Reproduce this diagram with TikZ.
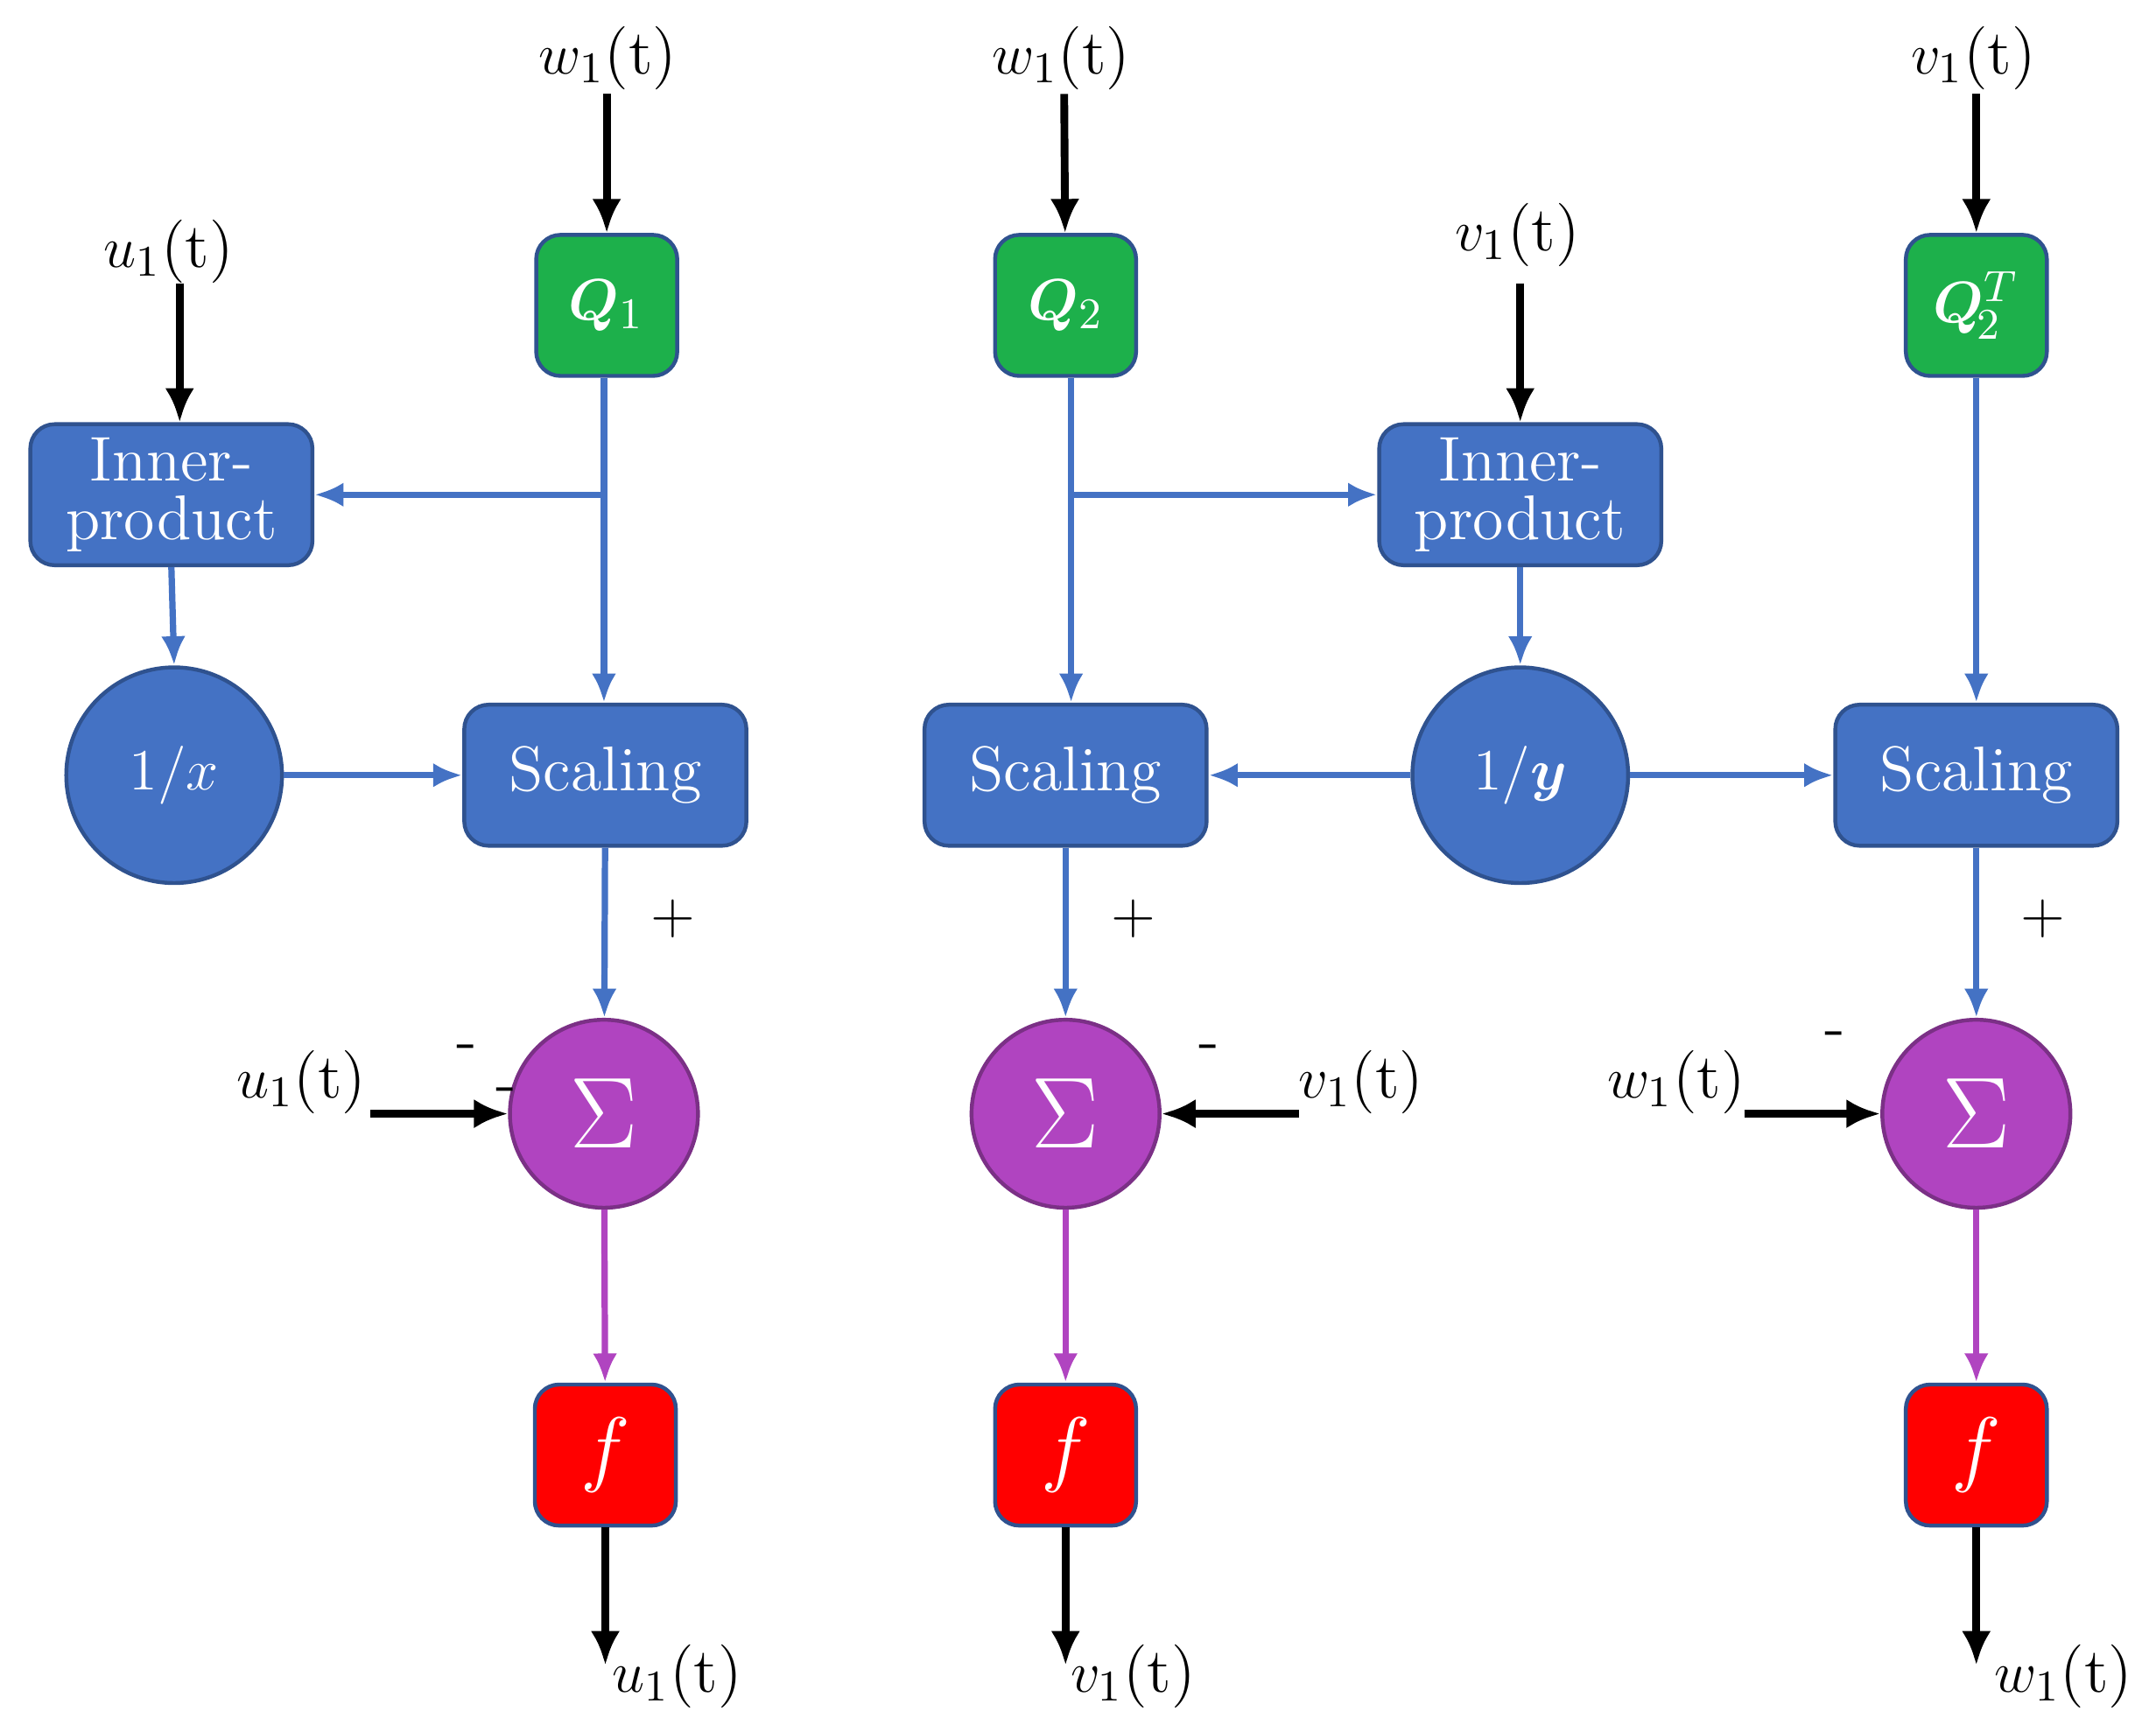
\documentclass[tikz,border=0pt]{standalone}
\usepackage{amsmath,bm}
\usetikzlibrary{arrows.meta}
\definecolor{bl}{HTML}{4472C4}
\definecolor{bld}{HTML}{2F528F}
\definecolor{gr}{HTML}{1DB04B}
\definecolor{pu}{HTML}{B044C0}
\definecolor{rd}{HTML}{FF0000}
\begin{document}
\begin{tikzpicture}[x=0.01cm,y=-0.01cm,font=\fontsize{13}{15}\selectfont,
 box/.style={draw=bld,line width=0.8pt,rounded corners=5pt,minimum width=2.04cm,minimum height=1.02cm,text=white,inner sep=0pt,align=center},
 sq/.style={box,minimum width=1.02cm},
 circ/.style={circle,draw=bld,line width=0.8pt,fill=bl,minimum size=1.56cm,text=white,inner sep=0pt},
 sig/.style={circle,draw=pu!70!black,line width=0.8pt,fill=pu,minimum size=1.36cm,text=white,inner sep=0pt,font=\fontsize{20}{22}\selectfont},
 ba/.style={-{Latex[length=7pt,width=6pt]},line width=1.6pt,black},
 bla/.style={-{Latex[length=6pt,width=5pt]},line width=1.3pt,bl},
 pa/.style={-{Latex[length=6pt,width=5pt]},line width=1.3pt,pu}]
\useasboundingbox (0,0) rectangle (1560,1253);
% green
\node[sq,fill=gr] (q1) at (439,221) {$\bm{Q}_1$};
\node[sq,fill=gr] (q2) at (771,221) {$\bm{Q}_2$};
\node[sq,fill=gr] (q3) at (1430,221) {$\bm{Q}_{\!2}^{T}$};
% inner products
\node[box,fill=bl,align=center] (ip1) at (124,358) {Inner-\\[-3pt]product};
\node[box,fill=bl,align=center] (ip2) at (1100,358) {Inner-\\[-3pt]product};
\node[circ] (cx) at (126,561) {$1/x$};
\node[circ] (cy) at (1100,561) {$1/\bm{y}$};
\node[box,fill=bl] (s1) at (438,561) {Scaling};
\node[box,fill=bl] (s2) at (771,561) {Scaling};
\node[box,fill=bl] (s3) at (1430,561) {Scaling};
\node[sig] (g1) at (437,806) {$\Sigma$};
\node[sig] (g2) at (771,806) {$\Sigma$};
\node[sig] (g3) at (1430,806) {$\Sigma$};
\node[sq,fill=rd,font=\fontsize{17}{19}\selectfont] (f1) at (438,1053) {$f$};
\node[sq,fill=rd,font=\fontsize{17}{19}\selectfont] (f2) at (771,1053) {$f$};
\node[sq,fill=rd,font=\fontsize{17}{19}\selectfont] (f3) at (1430,1053) {$f$};
% input labels
\node (iw1) at (440,42) {$w_1$(t)};
\node (iu1) at (122,182) {$u_1$(t)};
\node (iw2) at (768,42) {$w_1$(t)};
\node (iv2) at (1098,170) {$v_1$(t)};
\node (iv3) at (1428,42) {$v_1$(t)};
\coordinate (a1) at (439,68);
\coordinate (a2) at (130,205);
\coordinate (a3) at (770,68);
\coordinate (a4) at (1100,205);
\coordinate (a5) at (1430,68);
\draw[ba] (a1) -- (q1);
\draw[ba] (a2) -- (ip1.north -| a2);
\draw[ba] (a3) -- (q2);
\draw[ba] (a4) -- (ip2.north -| a4);
\draw[ba] (a5) -- (q3);
% blue
\coordinate (j1) at (437,358);
\coordinate (j2) at (775,358);
\draw[line width=1.3pt,bl] (q1.south -| j1) -- (j1);
\draw[bla] (j1) -- (ip1.east);
\draw[bla] (j1) -- (s1.north -| j1);
\draw[line width=1.3pt,bl] (q2.south -| j2) -- (j2);
\draw[bla] (j2) -- (ip2.west);
\draw[bla] (j2) -- (s2.north -| j2);
\draw[bla] (ip1.south) -- (cx.north);
\draw[bla] (cx) -- (s1);
\draw[bla] (ip2) -- (cy);
\draw[bla] (cy) -- (s2);
\draw[bla] (cy) -- (s3);
\draw[bla] (q3) -- (s3);
\draw[bla] (s1) -- (g1);
\draw[bla] (s2) -- (g2);
\draw[bla] (s3) -- (g3);
\node at (487,665) {$+$};
\node at (820,665) {$+$};
\node at (1478,665) {$+$};
\node at (338,762) {-};
\node at (366,793) {-};
\node at (875,762) {-};
\node at (1328,752) {-};
% side inputs
\node (su) at (218,783) {$u_1$(t)};
\node (sv) at (985,783) {$v_1$(t)};
\node (sw) at (1213,783) {$w_1$(t)};
\coordinate (cu) at (268,806);
\coordinate (cv) at (940,806);
\coordinate (cw) at (1262,806);
\draw[ba] (cu) -- (g1);
\draw[ba] (cv) -- (g2);
\draw[ba] (cw) -- (g3);
% to f
\draw[pa] (g1) -- (f1);
\draw[pa] (g2) -- (f2);
\draw[pa] (g3) -- (f3);
% outputs
\coordinate (o1) at (438,1205);
\coordinate (o2) at (771,1205);
\coordinate (o3) at (1430,1205);
\draw[ba] (f1) -- (o1);
\draw[ba] (f2) -- (o2);
\draw[ba] (f3) -- (o3);
\node at (490,1213) {$u_1$(t)};
\node at (820,1213) {$v_1$(t)};
\node at (1493,1213) {$w_1$(t)};
\end{tikzpicture}
\end{document}
